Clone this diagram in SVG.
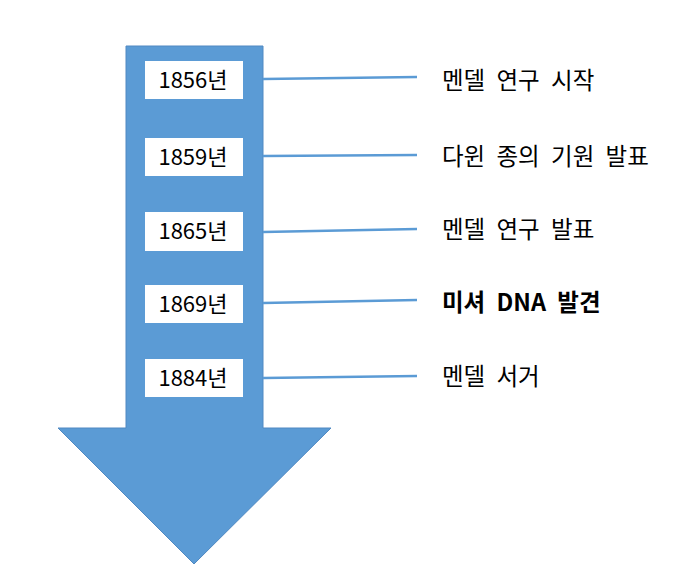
<svg xmlns="http://www.w3.org/2000/svg" width="696" height="580" viewBox="0 0 696 580">
<style>
.box{fill:#ffffff;}
.yr{font-family:"Noto Sans CJK KR","Liberation Sans",sans-serif;font-size:22px;fill:#000;text-anchor:middle;}
.lbl{font-family:"Noto Sans CJK KR","Liberation Sans",sans-serif;font-size:23.5px;fill:#000;word-spacing:6px;}
.bold{font-weight:bold;}
.conn{stroke:#5B9BD5;stroke-width:2.5;fill:none;}
</style>
<rect width="696" height="580" fill="#ffffff"/>
<g id="arrow">
<polygon points="126,46 263,46 263,428 331,428 194,564 58,428 126,428" fill="#5B9BD5" stroke="#5089C2" stroke-width="1"/>
</g>
<g id="connectors">
<line class="conn" x1="263" y1="79" x2="417" y2="77"/>
<line class="conn" x1="263" y1="156" x2="417" y2="155"/>
<line class="conn" x1="263" y1="232" x2="417" y2="229"/>
<line class="conn" x1="263" y1="303" x2="417" y2="300"/>
<line class="conn" x1="263" y1="378" x2="417" y2="376"/>
</g>
<g id="n1856"><rect class="box" x="145" y="61" width="98" height="38"/><text class="yr" x="193" y="88">1856년</text></g>
<g id="n1859"><rect class="box" x="145" y="138" width="98" height="38"/><text class="yr" x="193" y="165">1859년</text></g>
<g id="n1865"><rect class="box" x="145" y="212" width="98" height="39"/><text class="yr" x="193" y="239">1865년</text></g>
<g id="n1869"><rect class="box" x="145" y="285" width="98" height="38"/><text class="yr" x="193" y="312">1869년</text></g>
<g id="n1884"><rect class="box" x="145" y="359" width="98" height="38"/><text class="yr" x="193" y="386">1884년</text></g>
<g id="e1"><text class="lbl" x="442" y="89">멘델 연구 시작</text></g>
<g id="e2"><text class="lbl" x="442" y="165">다윈 종의 기원 발표</text></g>
<g id="e3"><text class="lbl" x="442" y="238">멘델 연구 발표</text></g>
<g id="e4"><text class="lbl bold" x="442" y="311">미셔 DNA 발견</text></g>
<g id="e5"><text class="lbl" x="442" y="385">멘델 서거</text></g>
</svg>
